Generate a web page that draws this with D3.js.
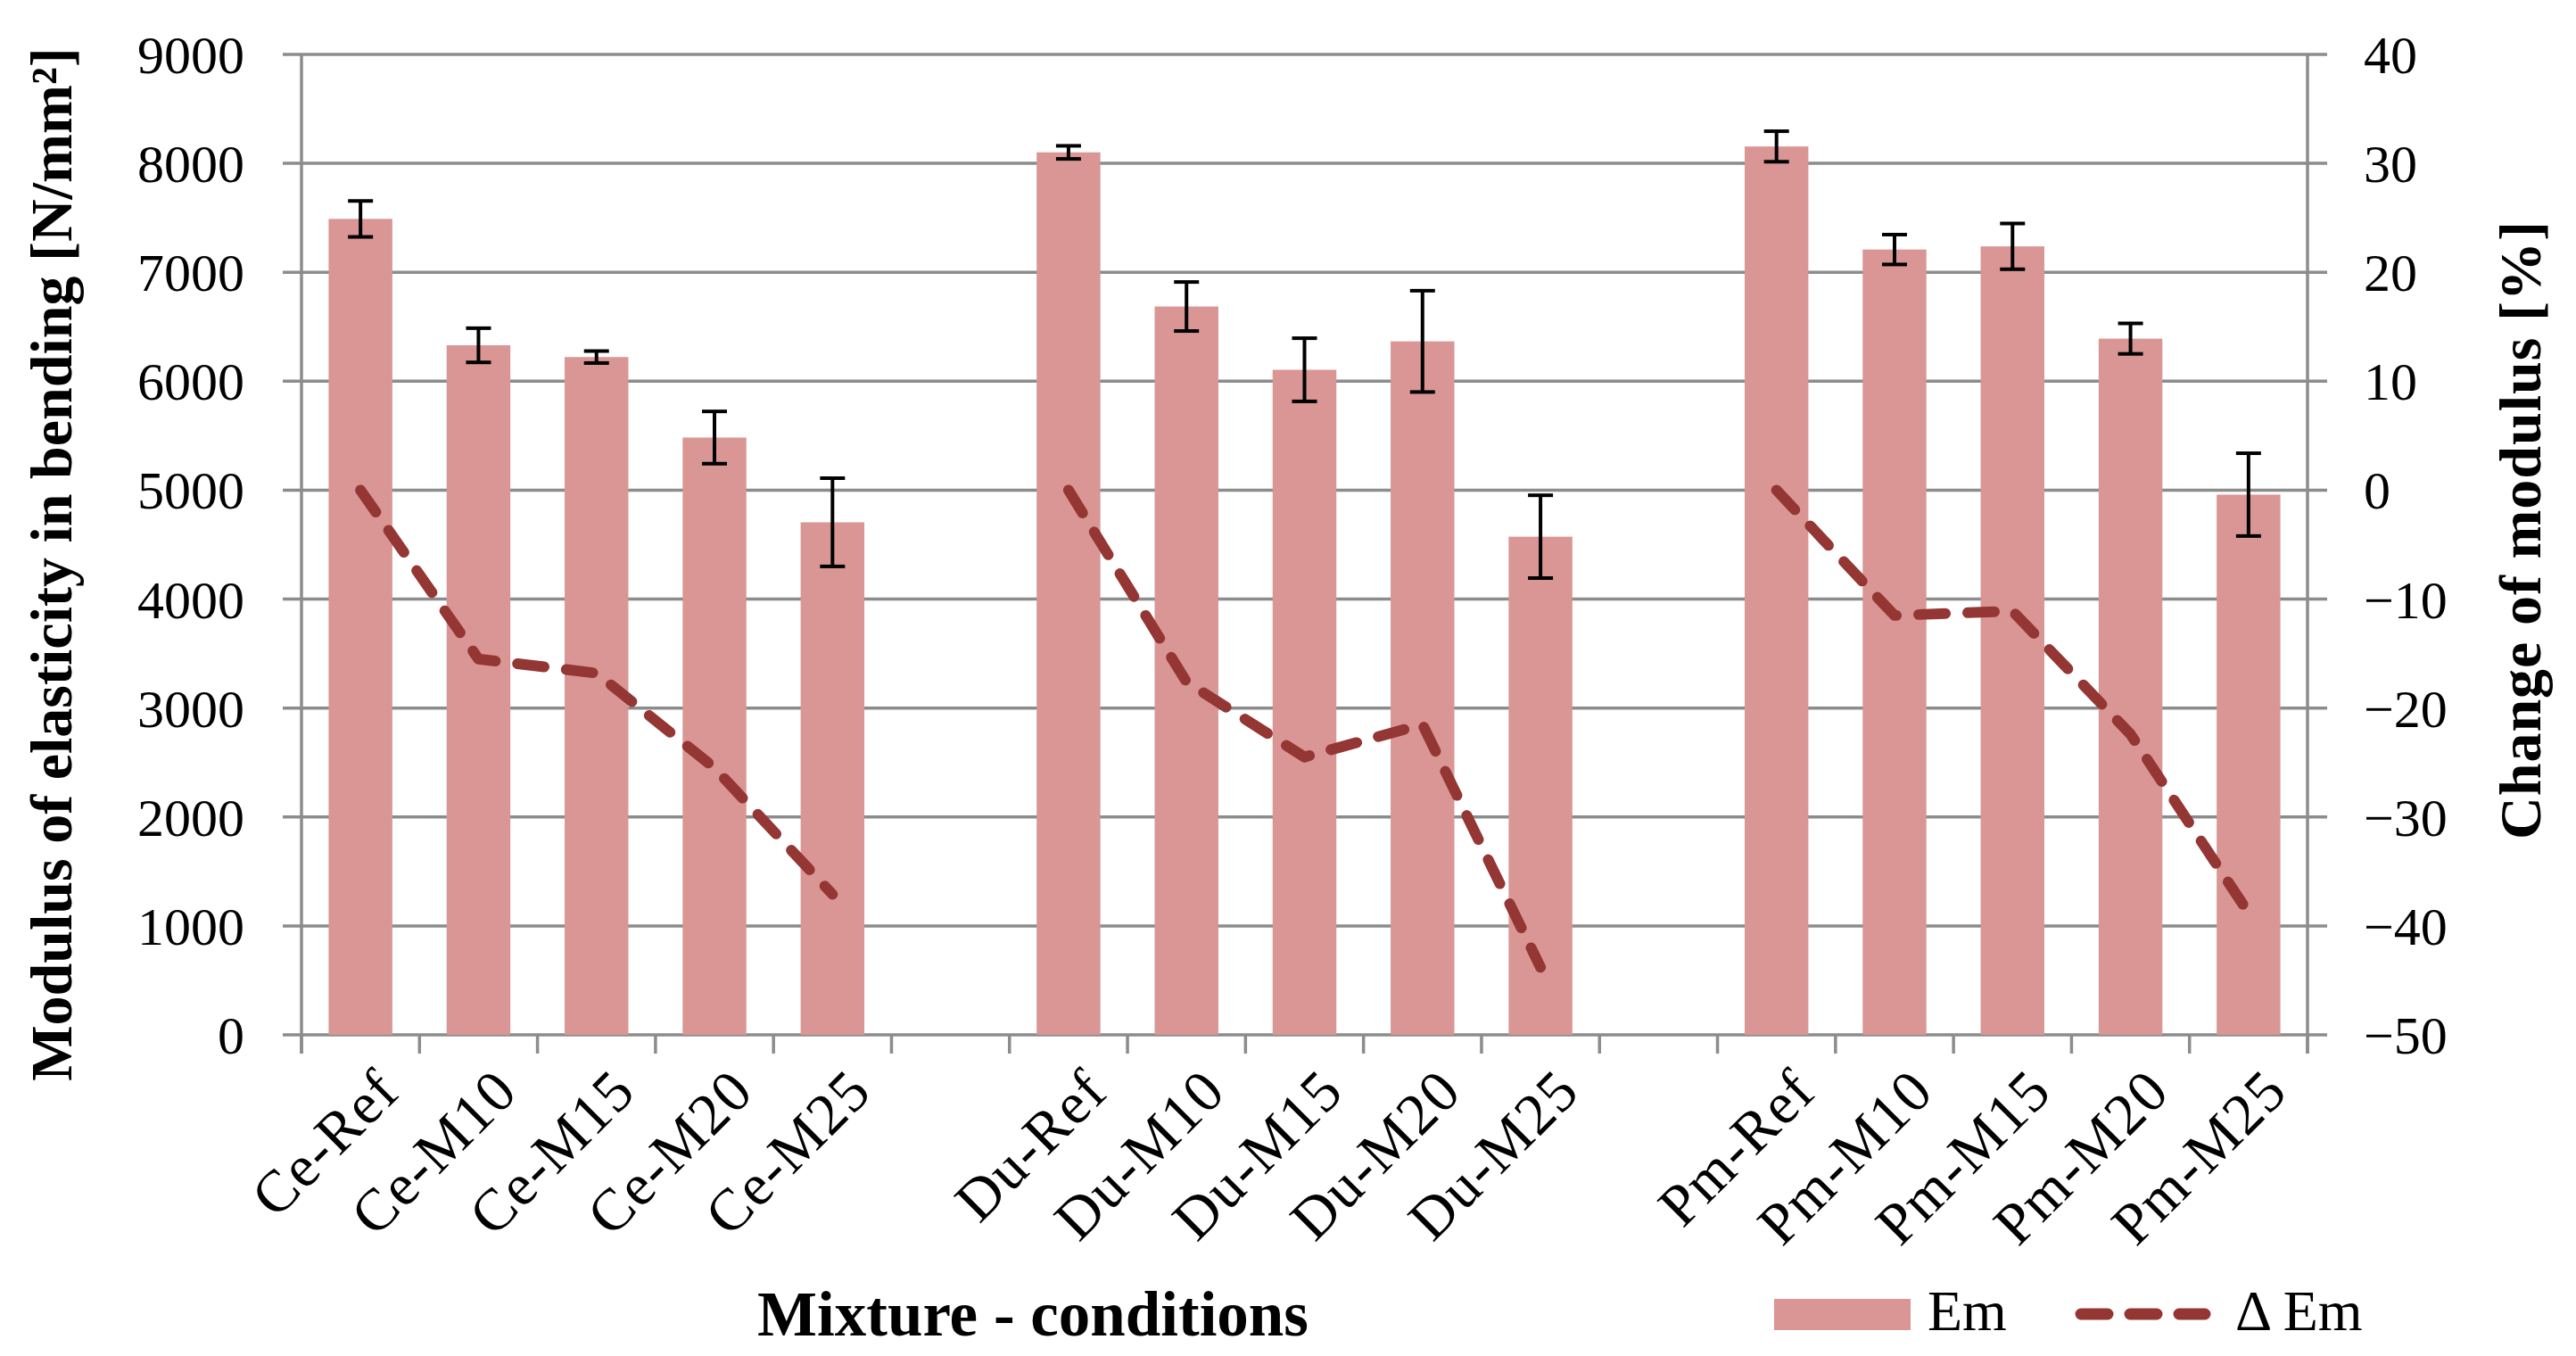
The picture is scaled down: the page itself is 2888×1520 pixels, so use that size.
<!DOCTYPE html>
<html>
<head>
<meta charset="utf-8">
<script src="https://cdn.jsdelivr.net/npm/d3@7"></script>
<style>
  body { margin: 0; background: #fff; }
  text { font-family: "Liberation Serif", "DejaVu Serif", serif; }
</style>
</head>
<body>
<div id="chart"></div>
<script>
const categories = ["Ce-Ref", "Ce-M10", "Ce-M15", "Ce-M20", "Ce-M25", "",
                    "Du-Ref", "Du-M10", "Du-M15", "Du-M20", "Du-M25", "",
                    "Pm-Ref", "Pm-M10", "Pm-M15", "Pm-M20", "Pm-M25"];
// modulus Em [N/mm2], null = empty slot between groups
const emValues = [7490, 6330, 6222, 5483, 4705, null,
                  8101, 6686, 6105, 6366, 4573, null,
                  8155, 7209, 7238, 6391, 4959];
const emErrors = [165, 157, 55, 240, 405, null,
                  60, 225, 290, 465, 380, null,
                  140, 137, 210, 140, 380];
// change of modulus [%]
const deltaEm = [0, -15.5, -16.8, -25.5, -37.1, null,
                 0, -17.6, -24.5, -21.5, -43.8, null,
                 0, -11.5, -11.1, -22.4, -38.8];
const leftTicks = [0, 1000, 2000, 3000, 4000, 5000, 6000, 7000, 8000, 9000];
const rightTicks = [-50, -40, -30, -20, -10, 0, 10, 20, 30, 40];

const W = 2888, H = 1520;
const plot = {left: 338, right: 2587, top: 61, bottom: 1160};
const barColor = "#d99694";
const lineColor = "#943634";
const gridColor = "#8c8c8c";

var svg = d3.select("#chart").append("svg")
  .attr("width", W)
  .attr("height", H);

var x = d3.scaleBand()
  .domain(d3.range(categories.length))
  .range([plot.left, plot.right])
  .paddingInner(0.46)
  .paddingOuter(0.23);

var yL = d3.scaleLinear().domain([0, 9000]).range([plot.bottom, plot.top]);
var yR = d3.scaleLinear().domain([-50, 40]).range([plot.bottom, plot.top]);

// gridlines (they stick out a bit past both axes, like tick marks)
svg.append("g")
  .selectAll("line")
  .data(leftTicks)
  .join("line")
  .attr("x1", plot.left - 21)
  .attr("x2", plot.right + 22)
  .attr("y1", d => yL(d))
  .attr("y2", d => yL(d))
  .attr("stroke", gridColor)
  .attr("stroke-width", 3.5);

// vertical axis lines
svg.append("g")
  .selectAll("line")
  .data([plot.left, plot.right])
  .join("line")
  .attr("x1", d => d).attr("x2", d => d)
  .attr("y1", plot.top).attr("y2", plot.bottom + 21)
  .attr("stroke", gridColor)
  .attr("stroke-width", 3.5);

// x ticks on slot boundaries
var step = x.step();
svg.append("g")
  .selectAll("line")
  .data(d3.range(categories.length + 1))
  .join("line")
  .attr("x1", i => plot.left + i * step)
  .attr("x2", i => plot.left + i * step)
  .attr("y1", plot.bottom)
  .attr("y2", plot.bottom + 21)
  .attr("stroke", gridColor)
  .attr("stroke-width", 3.5);

// bars
svg.append("g")
  .selectAll("rect")
  .data(d3.range(categories.length).filter(i => emValues[i] != null))
  .join("rect")
  .attr("x", i => x(i))
  .attr("width", x.bandwidth())
  .attr("y", i => yL(emValues[i]))
  .attr("height", i => yL(0) - yL(emValues[i]))
  .attr("fill", barColor);

// error bars
var err = svg.append("g")
  .attr("stroke", "#000")
  .attr("stroke-width", 4)
  .selectAll("g")
  .data(d3.range(categories.length).filter(i => emValues[i] != null))
  .join("g");

err.append("line")
  .attr("x1", i => x(i) + x.bandwidth() / 2)
  .attr("x2", i => x(i) + x.bandwidth() / 2)
  .attr("y1", i => yL(emValues[i] + emErrors[i]))
  .attr("y2", i => yL(emValues[i] - emErrors[i]));
err.append("line")
  .attr("x1", i => x(i) + x.bandwidth() / 2 - 14)
  .attr("x2", i => x(i) + x.bandwidth() / 2 + 14)
  .attr("y1", i => yL(emValues[i] + emErrors[i]))
  .attr("y2", i => yL(emValues[i] + emErrors[i]));
err.append("line")
  .attr("x1", i => x(i) + x.bandwidth() / 2 - 14)
  .attr("x2", i => x(i) + x.bandwidth() / 2 + 14)
  .attr("y1", i => yL(emValues[i] - emErrors[i]))
  .attr("y2", i => yL(emValues[i] - emErrors[i]));

// delta Em line
var line = d3.line()
  .defined(i => deltaEm[i] != null)
  .x(i => x(i) + x.bandwidth() / 2)
  .y(i => yR(deltaEm[i]));

svg.append("path")
  .datum(d3.range(categories.length))
  .attr("d", line)
  .attr("fill", "none")
  .attr("stroke", lineColor)
  .attr("stroke-width", 12)
  .attr("stroke-linecap", "round")
  .attr("stroke-linejoin", "round")
  .attr("stroke-dasharray", "30,25");

// left tick labels
svg.append("g")
  .selectAll("text")
  .data(leftTicks)
  .join("text")
  .attr("x", 274)
  .attr("y", d => yL(d))
  .attr("dy", "0.35em")
  .attr("text-anchor", "end")
  .attr("font-size", 60)
  .text(d => d);

// right tick labels
svg.append("g")
  .selectAll("text")
  .data(rightTicks)
  .join("text")
  .attr("x", 2650)
  .attr("y", d => yR(d))
  .attr("dy", "0.35em")
  .attr("text-anchor", "start")
  .attr("font-size", 60)
  .text(d => d < 0 ? "\u2212" + Math.abs(d) : d);

// category labels
svg.append("g")
  .selectAll("text")
  .data(d3.range(categories.length).filter(i => categories[i] != ""))
  .join("text")
  .attr("transform", i => "translate(" + (x(i) + x.bandwidth() / 2 + 30) + "," + 1210 + ") rotate(-45)")
  .attr("text-anchor", "end")
  .attr("dy", "0.35em")
  .attr("font-size", 66)
  .attr("letter-spacing", 1.5)
  .text(i => categories[i]);

// axis titles
svg.append("text")
  .attr("transform", "translate(80," + ((plot.top + plot.bottom) / 2 + 22) + ") rotate(-90)")
  .attr("text-anchor", "middle")
  .attr("font-size", 66)
  .attr("font-weight", "bold")
  .text("Modulus of elasticity in bending [N/mm\u00b2]");

svg.append("text")
  .attr("transform", "translate(2848," + 594 + ") rotate(-90)")
  .attr("text-anchor", "middle")
  .attr("font-size", 66)
  .attr("font-weight", "bold")
  .attr("letter-spacing", 1)
  .text("Change of modulus [%]");

svg.append("text")
  .attr("x", 1158)
  .attr("y", 1497)
  .attr("text-anchor", "middle")
  .attr("font-size", 71)
  .attr("font-weight", "bold")
  .text("Mixture - conditions");

// legend
var legend = svg.append("g");
legend.append("rect")
  .attr("x", 1989).attr("y", 1456)
  .attr("width", 153).attr("height", 35)
  .attr("fill", barColor);
legend.append("text")
  .attr("x", 2161).attr("y", 1491)
  .attr("font-size", 64)
  .text("Em");
legend.append("line")
  .attr("x1", 2333).attr("x2", 2472)
  .attr("y1", 1473).attr("y2", 1473)
  .attr("stroke", lineColor)
  .attr("stroke-width", 13)
  .attr("stroke-linecap", "round")
  .attr("stroke-dasharray", "30,25");
legend.append("text")
  .attr("x", 2506).attr("y", 1491)
  .attr("font-size", 64)
  .text("\u0394 Em");
</script>
</body>
</html>
